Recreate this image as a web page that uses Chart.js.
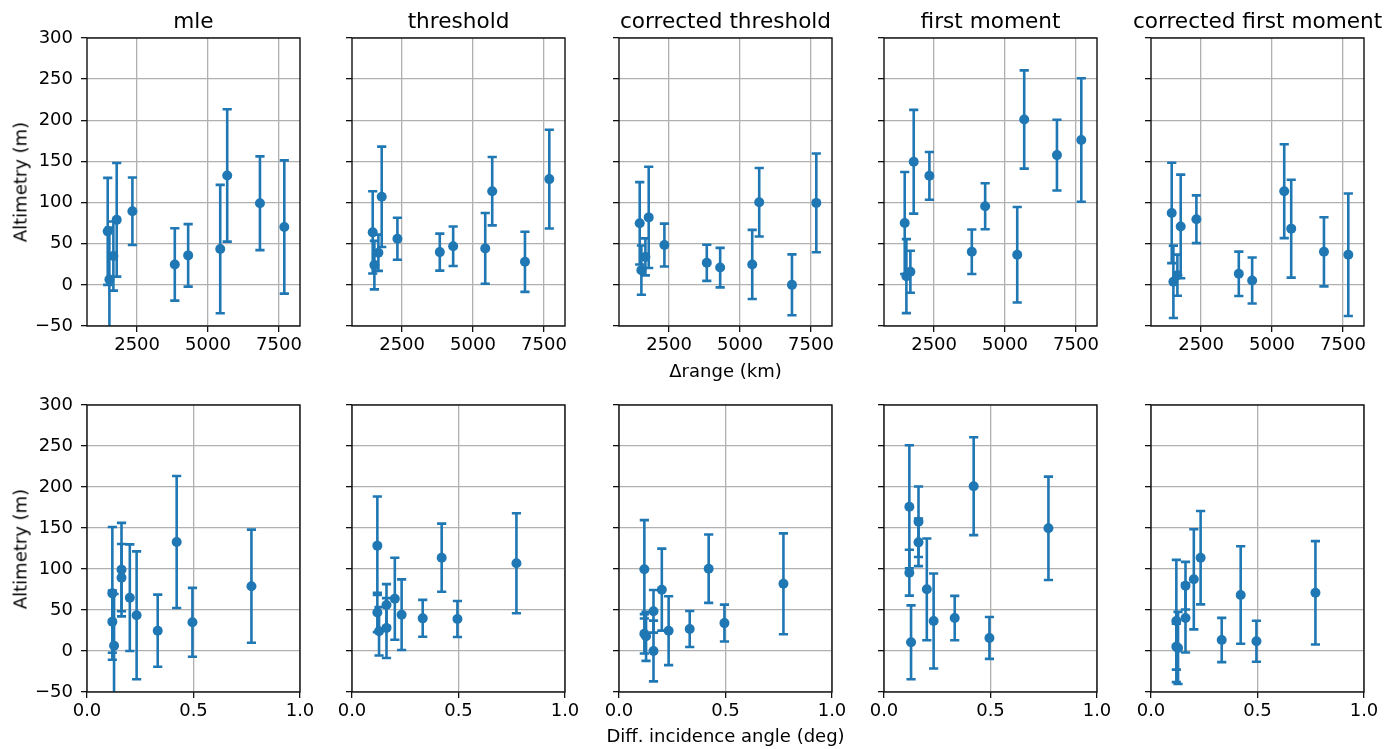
<!DOCTYPE html>
<html>
<head>
<meta charset="utf-8">
<script src="https://cdn.jsdelivr.net/npm/chart.js@4.4.0/dist/chart.umd.min.js"></script>
<style>
  body { margin: 0; background: #fff; width: 1395px; height: 749px; position: relative; overflow: hidden; font-family: "DejaVu Sans", sans-serif; }
  canvas { position: absolute; }
  .lbl { position: absolute; color: #000; white-space: nowrap; transform: translate(-50%, -50%); font-size: 18px; }
  .title { font-size: 21.6px; }
  .ylab { transform: translate(-50%, -50%) rotate(-90deg); }
</style>
</head>
<body>
<script>
// one entry per target, same order in every array
const rangeKm  = [1465, 1524, 1665, 1782, 2335, 3829, 4300, 5430, 5676, 6830, 7688];
const angleDeg = [0.201, 0.127, 0.495, 0.772, 0.162, 0.332, 0.119, 0.233, 0.421, 0.162, 0.119];

const methods = ['mle', 'threshold', 'corrected threshold', 'first moment', 'corrected first moment'];

const mle = [65, 6.5, 35, 79, 89.4, 24.8, 35.8, 43.5, 133, 99.2, 70.3];
const mleErr = [65, 63, 42, 69, 41, 44, 38, 78, 80.5, 57, 81];
const threshold = [63.8, 24, 39, 107, 56, 39.8, 47, 44.3, 113.8, 28, 128.5];
const thresholdErr = [50, 29.5, 22, 61, 25.5, 22.5, 24, 43, 41.5, 36.5, 60];
const corrThreshold = [74.8, 17.9, 34, 82, 48.4, 26.8, 21, 24.8, 100.4, 0, 99.6];
const corrThresholdErr = [50, 30, 22.5, 61.5, 26, 22, 24, 42, 41.7, 37, 60];
const firstMoment = [75.2, 10.6, 15.9, 149.6, 132.5, 40.2, 95.5, 36.6, 201, 157.7, 176];
const firstMomentErr = [62, 45, 25.5, 63, 29, 27, 28, 58, 59.7, 43, 75];
const corrFirstMoment = [87.4, 3.7, 11.8, 71, 79.7, 13.4, 5.3, 113.8, 68.3, 40.2, 36.6];
const corrFirstMomentErr = [61, 44, 25, 63, 29, 27, 28, 57, 59.5, 42, 74.5];

const values = [mle, threshold, corrThreshold, firstMoment, corrFirstMoment];
const errors = [mleErr, thresholdErr, corrThresholdErr, firstMomentErr, corrFirstMomentErr];

const rangeTicks = [2500, 5000, 7500];
const angleTicks = [0, 0.5, 1.0];
const altTicks = [-50, 0, 50, 100, 150, 200, 250, 300];

// layout
const BLUE = '#1f77b4';
const FONT = { family: 'DejaVu Sans', size: 18 };
const plotLefts = [87, 352, 619, 884, 1151];
const PLOT_W = 213;
const rows = [
    { top: 38, h: 288, xs: rangeKm, min: 735, max: 8241, ticks: rangeTicks, fmt: v => String(v), xlabel: 'Δrange (km)', xlabelY: 370 },
    { top: 405, h: 287, xs: angleDeg, min: 0, max: 1, ticks: angleTicks, fmt: v => v.toFixed(1), xlabel: 'Diff. incidence angle (deg)', xlabelY: 735 },
];
const PAD_TOP = 12, PAD_RIGHT = 18, X_AXIS_H = 34;

const errorBars = {
    id: 'errorBars',
    beforeDatasetsDraw(chart) {
        const { ctx, chartArea: a, scales: { x, y } } = chart;
        ctx.save();
        ctx.beginPath();
        ctx.rect(a.left, a.top, a.right - a.left, a.bottom - a.top);
        ctx.clip();
        ctx.strokeStyle = BLUE;
        ctx.lineWidth = 2.6;
        const cap = 4.6;
        chart.data.datasets.forEach(ds => ds.data.forEach(p => {
            const px = x.getPixelForValue(p.x);
            const top = y.getPixelForValue(p.y + p.err);
            const bot = y.getPixelForValue(p.y - p.err);
            ctx.beginPath();
            ctx.moveTo(px, top); ctx.lineTo(px, bot);
            ctx.moveTo(px - cap, top); ctx.lineTo(px + cap, top);
            ctx.moveTo(px - cap, bot); ctx.lineTo(px + cap, bot);
            ctx.stroke();
        }));
        ctx.restore();
    }
};

const frame = {
    id: 'frame',
    afterDraw(chart) {
        const { ctx, chartArea: a } = chart;
        ctx.save();
        ctx.strokeStyle = '#111';
        ctx.lineWidth = 1.4;
        ctx.strokeRect(a.left, a.top, a.right - a.left, a.bottom - a.top);
        ctx.restore();
    }
};

function addLabel(text, x, y, cls) {
    const d = document.createElement('div');
    d.className = 'lbl ' + (cls || '');
    d.textContent = text;
    d.style.left = x + 'px';
    d.style.top = y + 'px';
    document.body.appendChild(d);
}

rows.forEach((row, r) => {
    methods.forEach((name, c) => {
        const yW = c === 0 ? 72 : 20;
        const cv = document.createElement('canvas');
        cv.width = yW + PLOT_W + PAD_RIGHT;
        cv.height = PAD_TOP + row.h + X_AXIS_H;
        cv.style.left = (plotLefts[c] - yW) + 'px';
        cv.style.top = (row.top - PAD_TOP) + 'px';
        document.body.appendChild(cv);

        const pts = row.xs.map((xv, i) => ({ x: xv, y: values[c][i], err: errors[c][i] }));

        new Chart(cv, {
            type: 'scatter',
            data: {
                datasets: [{
                    data: pts,
                    backgroundColor: BLUE,
                    borderWidth: 0,
                    pointRadius: 5,
                    pointHoverRadius: 5,
                }]
            },
            options: {
                responsive: false,
                animation: false,
                devicePixelRatio: 1,
                layout: { padding: { top: PAD_TOP, right: PAD_RIGHT, left: 0, bottom: 0 } },
                plugins: { legend: { display: false }, tooltip: { enabled: false } },
                scales: {
                    x: {
                        type: 'linear',
                        min: row.min,
                        max: row.max,
                        afterBuildTicks: s => { s.ticks = row.ticks.map(v => ({ value: v })); },
                        afterFit: s => { s.height = X_AXIS_H; s.paddingLeft = 0; s.paddingRight = 0; },
                        border: { display: false },
                        grid: { color: '#b0b0b0', lineWidth: 1.3, tickLength: 6, tickColor: '#111', tickWidth: 1.3 },
                        ticks: { callback: v => row.fmt(v), font: FONT, color: '#000', padding: 3, autoSkip: false, maxRotation: 0 }
                    },
                    y: {
                        type: 'linear',
                        min: -50,
                        max: 300,
                        afterBuildTicks: s => { s.ticks = altTicks.map(v => ({ value: v })); },
                        afterFit: s => { s.width = yW; s.paddingTop = 0; s.paddingBottom = 0; },
                        border: { display: false },
                        grid: { color: '#b0b0b0', lineWidth: 1.3, tickLength: 6, tickColor: '#111', tickWidth: 1.3 },
                        ticks: {
                            callback: v => c === 0 ? (v < 0 ? '\u2212' + Math.abs(v) : String(v)) : '',
                            font: FONT, color: '#000', padding: 8, autoSkip: false
                        }
                    }
                }
            },
            plugins: [errorBars, frame]
        });

        if (r === 0) addLabel(name, plotLefts[c] + PLOT_W / 2, 20, 'title');
    });
    addLabel('Altimetry (m)', 20, row.top + row.h / 2, 'ylab');
    addLabel(row.xlabel, plotLefts[2] + PLOT_W / 2, row.xlabelY);
});
</script>
</body>
</html>
